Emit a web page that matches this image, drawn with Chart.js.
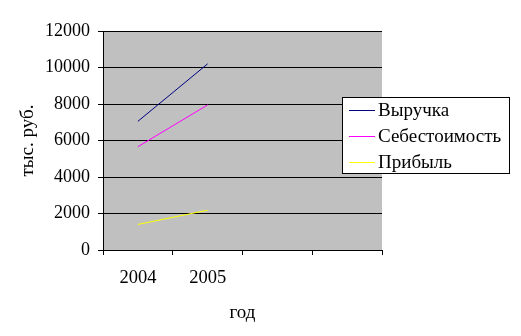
<!DOCTYPE html>
<html><head><meta charset="utf-8">
<script src="https://cdn.jsdelivr.net/npm/chart.js@4/dist/chart.umd.min.js"></script>
<style>html,body{margin:0;padding:0;background:#fff}#wrap{width:521px;height:336px}</style>
</head><body><div id="wrap"><canvas id="c" width="521" height="336"></canvas></div>
<script>
const categories = ['2004', '2005', '', ''];
const revenue = [7050, 10200, null, null];
const cost = [5660, 7950, null, null];
const profit = [1400, 2180, null, null];
const seriesNames = ['Выручка', 'Себестоимость', 'Прибыль'];
const yTitle = 'тыс. руб.';
const xTitle = 'год';
const FONT = '"Liberation Serif", "Times New Roman", serif';

const bgPlugin = {
  id: 'bg',
  beforeDraw(chart) {
    const a = chart.chartArea, ctx = chart.ctx;
    ctx.save(); ctx.fillStyle = '#C0C0C0';
    ctx.fillRect(a.left, a.top, a.right - a.left, a.bottom - a.top);
    ctx.restore();
  }
};
const legendPlugin = {
  id: 'boxLegend',
  afterDraw(chart) {
    const ctx = chart.ctx;
    const x = 342, y = 97, w = 167, h = 76;
    ctx.save();
    ctx.fillStyle = '#fff'; ctx.fillRect(x, y, w, h);
    ctx.strokeStyle = '#000'; ctx.lineWidth = 1;
    ctx.strokeRect(x + 0.5, y + 0.5, w, h);
    ctx.font = '19px ' + FONT; ctx.textBaseline = 'middle'; ctx.fillStyle = '#000';
    chart.data.datasets.forEach((ds, i) => {
      const yy = 110.5 + i * 26;
      ctx.strokeStyle = ds.borderColor; ctx.beginPath();
      ctx.moveTo(349, yy); ctx.lineTo(375, yy); ctx.stroke();
      ctx.fillText(ds.label, 378, yy + 1);
    });
    ctx.restore();
  }
};

new Chart(document.getElementById('c'), {
  type: 'line',
  data: {
    labels: categories,
    datasets: [
      { label: seriesNames[0], data: revenue, borderColor: '#000080' },
      { label: seriesNames[1], data: cost, borderColor: '#FF00FF' },
      { label: seriesNames[2], data: profit, borderColor: '#FFFF00' }
    ]
  },
  options: {
    responsive: false, animation: false,
    layout: { padding: { left: 0, right: 139, top: 31, bottom: 0 } },
    elements: { line: { borderWidth: 1, tension: 0 }, point: { radius: 0 } },
    plugins: { legend: { display: false }, tooltip: { enabled: false } },
    scales: {
      x: {
        offset: true,
        afterFit(s) { s.height = 86; },
        grid: { display: true, offset: true, drawOnChartArea: false, color: '#000', tickLength: 5 },
        border: { display: true, color: '#000' },
        ticks: { color: '#000', font: { family: FONT, size: 18.5 }, padding: 12, maxRotation: 0, autoSkip: false },
        title: { display: true, text: xTitle, color: '#000', font: { family: FONT, size: 19 }, padding: { top: 0, bottom: 12 } }
      },
      y: {
        min: 0, max: 12000,
        afterFit(s) { s.width = 103; },
        grid: { color: '#000', tickLength: 5 },
        border: { display: true, color: '#000' },
        ticks: { stepSize: 2000, color: '#000', font: { family: FONT, size: 18 }, padding: 8, callback: v => String(v) },
        title: { display: true, text: yTitle, color: '#000', font: { family: FONT, size: 19 }, padding: { top: 17, bottom: 0 } }
      }
    }
  },
  plugins: [bgPlugin, legendPlugin]
});
</script></body></html>
